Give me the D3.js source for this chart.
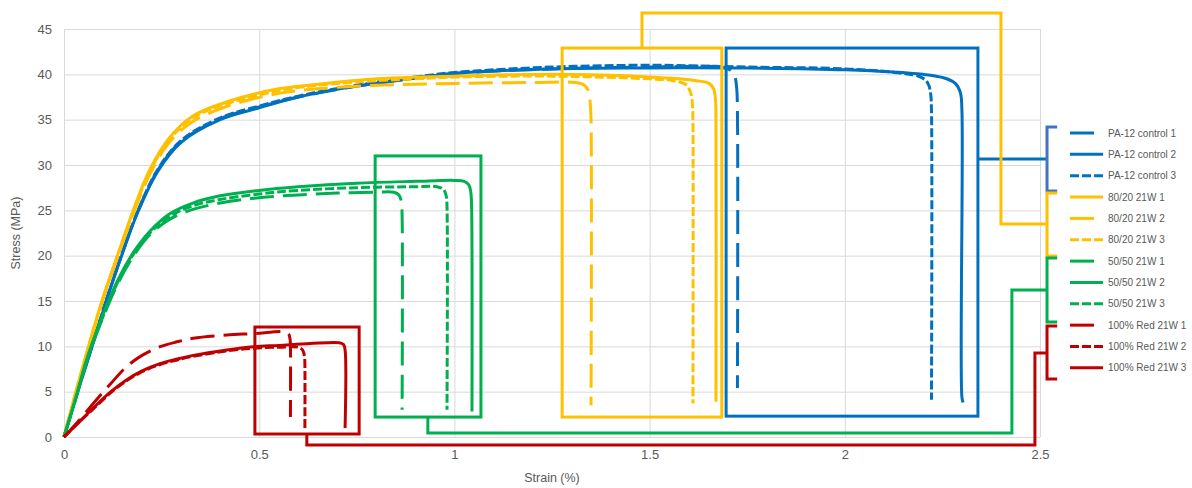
<!DOCTYPE html>
<html>
<head>
<meta charset="utf-8">
<script src="https://cdn.jsdelivr.net/npm/d3@7"></script>
<style>
  body { margin: 0; background: #fff; }
  svg text { font-family: "Liberation Sans", Arial, sans-serif; fill: #595959; }
</style>
</head>
<body>
<script>
// Series names (legend order = draw order)
const seriesNames = [
  "PA-12 control 1", "PA-12 control 2", "PA-12 control 3",
  "80/20 21W 1", "80/20 21W 2", "80/20 21W 3",
  "50/50 21W 1", "50/50 21W 2", "50/50 21W 3",
  "100% Red 21W 1", "100% Red 21W 2", "100% Red 21W 3"
];

// [strain %, stress MPa]
const pa12_1 = [[0,0],[0.03,4.4],[0.07,9.8],[0.11,15.3],[0.15,20.4],[0.19,25],[0.24,29.4],[0.3,32.6],[0.4,35.1],[0.5,36.4],[0.6,37.5],[0.75,38.7],[0.9,39.6],[1.0,40.1],[1.25,40.6],[1.5,40.8],[1.68,40.8],[1.705,40.5],[1.718,39.8],[1.723,38.5],[1.725,36],[1.725,5.4]];
const pa12_2 = [[0,0],[0.03,4.3],[0.07,9.7],[0.11,15.2],[0.15,20.3],[0.19,24.9],[0.24,29.3],[0.3,32.5],[0.4,35.0],[0.5,36.3],[0.6,37.5],[0.75,38.7],[0.9,39.6],[1.0,40.1],[1.25,40.6],[1.5,40.7],[1.75,40.7],[2.0,40.5],[2.2,40.0],[2.255,39.6],[2.283,39.0],[2.296,38.0],[2.3,36],[2.3,4.4],[2.303,3.8]];
const pa12_3 = [[0,0],[0.03,4.4],[0.07,9.8],[0.11,15.3],[0.15,20.4],[0.19,25],[0.24,29.5],[0.3,32.7],[0.4,35.2],[0.5,36.5],[0.6,37.6],[0.75,38.8],[0.9,39.7],[1.0,40.2],[1.25,40.8],[1.5,41.0],[1.75,40.8],[2.0,40.6],[2.15,40.1],[2.195,39.7],[2.213,39.0],[2.22,37.8],[2.222,36],[2.222,4.1]];

const y8020_1 = [[0,0],[0.03,4.9],[0.07,11.1],[0.1,15.4],[0.14,20.4],[0.18,25.3],[0.22,29.5],[0.27,33],[0.33,35.4],[0.42,37.0],[0.55,38.4],[0.65,38.9],[0.8,39.5],[0.9,39.7],[1.0,39.8],[1.25,40.0],[1.5,39.7],[1.62,39.3],[1.652,39.0],[1.664,38.4],[1.669,37],[1.67,35],[1.67,3.9]];
const y8020_2 = [[0,0],[0.03,4.8],[0.07,10.9],[0.1,15.2],[0.14,20.2],[0.18,24.9],[0.22,29],[0.27,32.5],[0.33,34.8],[0.42,36.5],[0.55,37.9],[0.65,38.4],[0.8,38.8],[0.9,38.9],[1.0,39.0],[1.2,39.1],[1.31,39.1],[1.333,38.8],[1.344,38.1],[1.348,36.8],[1.35,35],[1.35,3.5]];
const y8020_3 = [[0,0],[0.03,4.9],[0.07,11.0],[0.1,15.3],[0.14,20.3],[0.18,25.1],[0.22,29.3],[0.27,32.8],[0.33,35.2],[0.42,36.8],[0.55,38.2],[0.65,38.8],[0.8,39.3],[0.9,39.5],[1.0,39.7],[1.25,39.8],[1.5,39.5],[1.56,39.3],[1.592,38.9],[1.605,38.0],[1.61,36.5],[1.611,35],[1.611,3.7]];

const g5050_1 = [[0,0],[0.03,4.2],[0.06,8.6],[0.1,13.2],[0.14,17.1],[0.18,20.1],[0.22,22.3],[0.27,24.0],[0.33,25.1],[0.4,25.8],[0.5,26.4],[0.6,26.7],[0.7,26.9],[0.8,27.0],[0.845,27.0],[0.858,26.7],[0.864,26],[0.866,24.5],[0.866,3.0]];
const g5050_2 = [[0,0],[0.03,4.3],[0.06,8.8],[0.1,13.5],[0.14,17.5],[0.18,20.5],[0.22,22.7],[0.27,24.6],[0.33,25.8],[0.4,26.6],[0.5,27.2],[0.6,27.6],[0.75,28.0],[0.9,28.2],[1.0,28.3],[1.025,28.2],[1.037,27.8],[1.042,27],[1.044,25.5],[1.045,2.8]];
const g5050_3 = [[0,0],[0.03,4.2],[0.06,8.7],[0.1,13.3],[0.14,17.3],[0.18,20.3],[0.22,22.5],[0.27,24.3],[0.33,25.5],[0.4,26.2],[0.5,26.8],[0.6,27.2],[0.75,27.5],[0.9,27.6],[0.955,27.6],[0.972,27.3],[0.979,26.6],[0.981,25.5],[0.981,3.0]];

const red_1 = [[0,0],[0.04,1.9],[0.075,3.7],[0.12,5.9],[0.16,7.75],[0.2,9.0],[0.246,9.96],[0.29,10.5],[0.331,10.9],[0.417,11.25],[0.485,11.4],[0.565,11.6],[0.575,11.4],[0.579,10.8],[0.58,10],[0.58,2.2]];
const red_2 = [[0,0],[0.04,1.7],[0.075,3.1],[0.12,4.9],[0.16,6.2],[0.2,7.2],[0.246,8.0],[0.29,8.5],[0.331,8.9],[0.417,9.5],[0.485,9.8],[0.55,9.9],[0.6,9.9],[0.611,9.6],[0.616,8.9],[0.617,8],[0.617,1.0]];
const red_3 = [[0,0],[0.04,1.7],[0.075,3.2],[0.12,5.0],[0.16,6.3],[0.2,7.3],[0.246,8.1],[0.29,8.6],[0.331,9.0],[0.417,9.6],[0.485,9.95],[0.55,10.1],[0.63,10.3],[0.705,10.4],[0.716,10.2],[0.72,9.6],[0.72,1.0]];

const seriesData = [pa12_1, pa12_2, pa12_3, y8020_1, y8020_2, y8020_3,
  g5050_1, g5050_2, g5050_3, red_1, red_2, red_3];

const xTicks = [0, 0.5, 1, 1.5, 2, 2.5];
const yTicks = [0, 5, 10, 15, 20, 25, 30, 35, 40, 45];

// annotation boxes, in [strain, stress] corners
const boxRed = [0.489, 0.33, 0.756, 12.13];
const boxGreen = [0.797, 2.2, 1.068, 31.0];
const boxYellow = [1.276, 2.2, 1.685, 42.9];
const boxBlue = [1.696, 2.3, 2.341, 42.9];

// connectors from boxes to legend brackets
const linkBlue = [[2.341,30.66],[2.518,30.66]];
const linkYellow = [[1.4805,42.9],[1.4805,46.76],[2.4,46.76],[2.4,23.49],[2.518,23.49]];
const linkGreen = [[0.932,2.2],[0.932,0.44],[2.428,0.44],[2.428,16.21],[2.518,16.21]];
const linkRed = [[0.622,0.33],[0.622,-0.88],[2.487,-0.88],[2.487,9.26],[2.518,9.26]];

// legend brackets [top stress, bottom stress]
const bracketBlue = [34.19, 27.13];
const bracketYellow = [26.91, 19.96];
const bracketGreen = [19.74, 12.68];
const bracketRed = [12.24, 6.40];

// styles
const blue = "#0070C0", yellow = "#FFC000", green = "#00B050", red = "#C00000";
const colors = [blue, blue, blue, yellow, yellow, yellow, green, green, green, red, red, red];
const longDash = "24,9", shortDash = "9,3";
const dashes = [longDash, null, shortDash, null, longDash, shortDash,
  longDash, null, shortDash, longDash, shortDash, null];

let w = 1192;
let h = 488;

let xScale = d3.scaleLinear().domain([0, 2.5]).range([64, 1040]);
let yScale = d3.scaleLinear().domain([0, 45]).range([437, 29]);

let svg = d3.select("body").append("svg").attr("width", w).attr("height", h);

// grid + axes
let yAxis = d3.axisLeft(yScale).tickValues(yTicks).tickSize(-(1040 - 64)).tickPadding(12).tickFormat((d) => d);
svg.append("g").attr("transform", "translate(64,0)").call(yAxis)
  .call((g) => g.select(".domain").remove())
  .call((g) => g.selectAll("line").attr("stroke", "#D9D9D9"))
  .call((g) => g.selectAll("text").attr("font-size", "13px").style("fill", "#595959"));

let xAxis = d3.axisBottom(xScale).tickValues(xTicks).tickSize(-(437 - 29)).tickPadding(13).tickFormat((d) => d);
svg.append("g").attr("transform", "translate(0,437)").call(xAxis)
  .call((g) => g.select(".domain").remove())
  .call((g) => g.selectAll("line").attr("stroke", "#D9D9D9"))
  .call((g) => g.selectAll("text").attr("font-size", "13px").style("fill", "#595959"));

svg.append("text").attr("x", 552).attr("y", 482).attr("text-anchor", "middle")
  .attr("font-size", "12.5px").text("Strain (%)");
svg.append("text").attr("transform", "translate(20,233) rotate(-90)").attr("text-anchor", "middle")
  .attr("font-size", "12.5px").text("Stress (MPa)");

// curves
let line = d3.line()
  .x((d) => xScale(d[0]))
  .y((d) => yScale(d[1]))
  .curve(d3.curveCatmullRom.alpha(0.5));

svg.append("g").selectAll("path")
  .data(seriesData)
  .enter()
  .append("path")
  .attr("d", line)
  .attr("fill", "none")
  .attr("stroke", (d, i) => colors[i])
  .attr("stroke-width", 3)
  .attr("stroke-linejoin", "round")
  .attr("stroke-dasharray", (d, i) => dashes[i]);

// boxes
let boxes = [[boxRed, red], [boxGreen, green], [boxYellow, yellow], [boxBlue, blue]];
svg.append("g").selectAll("rect")
  .data(boxes)
  .enter()
  .append("rect")
  .attr("x", (d) => xScale(d[0][0]))
  .attr("y", (d) => yScale(d[0][3]))
  .attr("width", (d) => xScale(d[0][2]) - xScale(d[0][0]))
  .attr("height", (d) => yScale(d[0][1]) - yScale(d[0][3]))
  .attr("fill", "none")
  .attr("stroke", (d) => d[1])
  .attr("stroke-width", 3);

// connectors
let straight = d3.line().x((d) => xScale(d[0])).y((d) => yScale(d[1]));
let links = [[linkBlue, blue], [linkYellow, yellow], [linkGreen, green], [linkRed, red]];
svg.append("g").selectAll("path")
  .data(links)
  .enter()
  .append("path")
  .attr("d", (d) => straight(d[0]))
  .attr("fill", "none")
  .attr("stroke", (d) => d[1])
  .attr("stroke-width", 3);

// brackets beside the legend
let brackets = [[bracketBlue, "#4472C4"], [bracketYellow, yellow], [bracketGreen, green], [bracketRed, red]];
svg.append("g").selectAll("path")
  .data(brackets)
  .enter()
  .append("path")
  .attr("d", (d) => straight([[2.544, d[0][0]], [2.518, d[0][0]], [2.518, d[0][1]], [2.544, d[0][1]]]))
  .attr("fill", "none")
  .attr("stroke", (d) => d[1])
  .attr("stroke-width", 3);

// legend
let legend = svg.append("g").selectAll("g")
  .data(seriesNames)
  .enter()
  .append("g")
  .attr("transform", (d, i) => "translate(1070," + (133 + i * 21.35) + ")");

legend.append("line")
  .attr("x1", 0).attr("x2", 33)
  .attr("stroke", (d, i) => colors[i])
  .attr("stroke-width", 3)
  .attr("stroke-dasharray", (d, i) => dashes[i]);

legend.append("text")
  .attr("x", 38)
  .attr("dy", "0.35em")
  .attr("font-size", "10px")
  .text((d) => d);
</script>
</body>
</html>
